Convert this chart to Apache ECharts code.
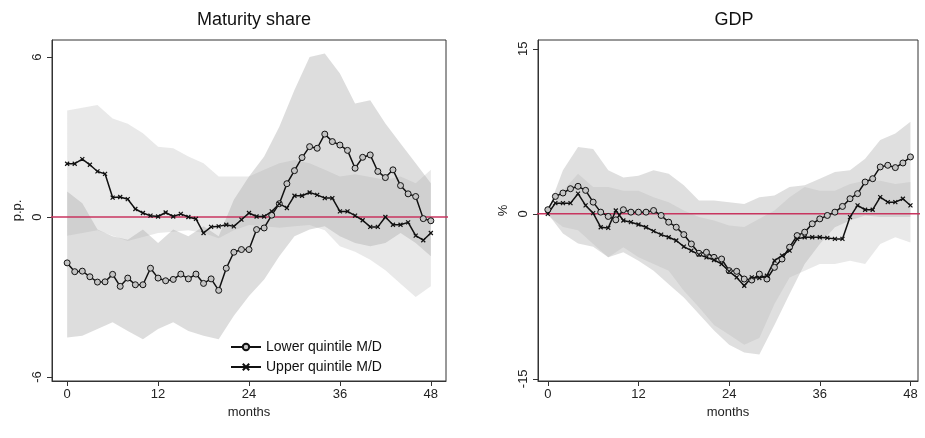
<!DOCTYPE html>
<html>
<head>
<meta charset="utf-8">
<script src="https://cdn.jsdelivr.net/npm/echarts@6/dist/echarts.min.js"></script>
<style>html,body{margin:0;padding:0;background:#fff}#container{width:925px;height:438px}</style>
</head>
<body>
<div id="container"></div>
<script>
var dom = document.getElementById('container');
var myChart = echarts.init(dom, null, { renderer: 'canvas' });

var months = [];
for (var i = 0; i <= 48; i++) months.push(i);
var bandMonths = [0,2,4,6,8,10,12,14,16,18,20,22,24,26,28,30,32,34,36,38,40,42,44,46,48];
var tickLabels = [0, 12, 24, 36, 48];

// Maturity share
var matLower = [-1.72,-2.05,-2.03,-2.24,-2.44,-2.43,-2.15,-2.6,-2.29,-2.54,-2.54,-1.92,-2.29,-2.39,-2.34,-2.14,-2.32,-2.14,-2.49,-2.32,-2.75,-1.92,-1.32,-1.22,-1.22,-0.47,-0.41,0.07,0.5,1.25,1.74,2.23,2.64,2.58,3.11,2.83,2.7,2.5,1.83,2.24,2.33,1.71,1.48,1.77,1.18,0.87,0.77,-0.06,-0.14];
var matUpper = [2.0,2.0,2.17,1.96,1.71,1.62,0.73,0.75,0.67,0.3,0.15,0.05,0.02,0.17,0.02,0.12,0,-0.07,-0.6,-0.37,-0.35,-0.29,-0.35,-0.1,0.15,0.02,0.02,0.21,0.5,0.34,0.8,0.8,0.92,0.83,0.71,0.71,0.21,0.21,0.05,-0.12,-0.37,-0.37,0,-0.29,-0.29,-0.2,-0.7,-0.87,-0.6];
var matLowerHi = [0.96,0.52,-0.47,-0.72,-0.85,-0.47,-0.97,-0.47,-0.72,-0.35,-0.72,0.65,1.52,2.27,3.39,4.76,6.0,6.13,5.38,4.26,4.38,3.51,2.76,2.02,1.27];
var matLowerLo = [-4.52,-4.45,-4.2,-3.95,-4.27,-4.58,-4.2,-3.95,-4.27,-4.45,-4.58,-3.7,-2.96,-2.34,-1.47,-0.72,-0.47,-0.35,-0.72,-0.97,-1.1,-0.97,-0.6,-0.97,-1.47];
var matUpperHi = [4.0,4.1,4.2,3.7,3.5,3.14,2.64,2.58,2.27,2.02,1.52,1.52,1.52,1.77,2.02,2.14,2.02,1.77,1.52,1.6,1.5,1.4,1.52,1.27,1.77];
var matUpperLo = [-0.7,-0.6,-0.5,-0.7,-0.9,-0.75,-0.6,-0.55,-0.5,-0.6,-0.8,-0.5,-0.3,-0.35,-0.4,-0.35,-0.3,-0.5,-1.1,-1.3,-1.6,-2.0,-2.5,-3.0,-2.6];

// GDP
var gdpLower = [0.37,1.58,1.89,2.28,2.5,2.13,1.06,0.15,-0.24,-0.55,0.37,0.15,0.15,0.15,0.3,-0.15,-0.76,-1.22,-1.89,-2.74,-3.59,-3.5,-3.96,-4.11,-5.17,-5.23,-5.93,-6.02,-5.48,-5.93,-4.87,-4.11,-3.04,-1.98,-1.67,-0.91,-0.46,-0.15,0.15,0.67,1.37,1.83,2.89,3.19,4.26,4.41,4.2,4.62,5.17];
var gdpUpper = [0,0.97,0.97,0.97,1.83,0.76,0.06,-1.22,-1.28,0.3,-0.61,-0.76,-0.97,-1.22,-1.58,-1.89,-2.13,-2.43,-2.98,-3.35,-3.71,-3.96,-4.2,-4.56,-5.23,-5.78,-6.54,-5.78,-5.84,-5.63,-4.26,-3.8,-3.35,-2.28,-2.13,-2.13,-2.13,-2.19,-2.28,-2.28,-0.3,0.76,0.37,0.37,1.52,1.06,1.06,1.37,0.76];
var gdpUpperHi = [0.3,3.95,6.08,5.9,3.95,3.3,3.45,3.95,3.65,2.6,1.2,1.2,1.06,0.9,1.5,1.67,2.43,2.6,3.19,3.8,3.95,5.0,6.7,7.3,8.37];
var gdpUpperLo = [0,-1.8,-2.7,-3.0,-3.96,-3.5,-4.26,-5.17,-6.4,-7.6,-9.1,-10.6,-11.9,-12.6,-12.8,-10.1,-7.3,-4.56,-2.74,-1.22,-0.6,-0.15,-0.3,-0.3,-0.3];
var gdpLowerHi = [0.15,2.1,3.65,2.43,2.43,2.1,2.1,1.5,1.06,0.3,-0.3,-0.6,-1.06,-1.2,-0.46,0.3,1.5,2.43,2.1,2.1,2.7,3.0,3.0,2.7,2.9];
var gdpLowerLo = [-0.15,-1.2,-1.5,-2.74,-3.96,-3.04,-3.96,-4.56,-5.17,-7.0,-8.5,-10.1,-11.0,-11.9,-11.3,-8.2,-5.8,-5.17,-4.56,-4.56,-4.26,-4.56,-2.74,-2.13,-2.6];

var crossPath = 'path://M0,0L10,10M10,0L0,10';

function pairs(xs, ys) {
    return xs.map(function (x, k) { return [x, ys[k]]; });
}
// confidence band drawn as one polygon through the axis scales
function band(idx, lo, hi, color) {
    var rows = bandMonths.map(function (m, k) { return [m, lo[k], hi[k]]; });
    return {
        type: 'custom', xAxisIndex: idx, yAxisIndex: idx, silent: true, z: 1,
        data: rows,
        encode: { x: 0, y: [1, 2] },
        renderItem: function (params, api) {
            if (params.dataIndex !== 0) return;
            var top = [], bot = [];
            rows.forEach(function (r) {
                top.push(api.coord([r[0], r[2]]));
                bot.unshift(api.coord([r[0], r[1]]));
            });
            return { type: 'polygon', shape: { points: top.concat(bot) }, style: { fill: color } };
        }
    };
}
function lineSeries(idx, name, ys, sym) {
    var isCircle = sym === 'circle';
    return {
        type: 'line', name: name, xAxisIndex: idx, yAxisIndex: idx, data: pairs(months, ys), z: 5,
        symbol: isCircle ? 'circle' : crossPath,
        symbolSize: isCircle ? 6 : 4,
        lineStyle: { color: '#111', width: 1.5 },
        itemStyle: { color: isCircle ? '#c4c4c4' : '#111', borderColor: '#111', borderWidth: isCircle ? 1 : 1.2 }
    };
}
function zeroLine(idx) {
    return { type: 'line', xAxisIndex: idx, yAxisIndex: idx, symbol: 'none', silent: true, z: 4,
             lineStyle: { color: '#c8355f', width: 1.5 }, data: [[-3, 0], [51, 0]] };
}
function xAxis(idx, min, max) {
    return {
        type: 'value', gridIndex: idx, min: min, max: max,
        name: 'months', nameLocation: 'middle', nameGap: 16,
        nameTextStyle: { color: '#222', fontSize: 13, fontFamily: 'Liberation Sans' },
        axisLine: { show: true, onZero: false, lineStyle: { color: '#333' } },
        axisTick: { show: true, customValues: tickLabels, length: 5, lineStyle: { color: '#333' } },
        axisLabel: { customValues: tickLabels, color: '#222', fontSize: 13, margin: 7, fontFamily: 'Liberation Sans' },
        splitLine: { show: false }
    };
}
function yAxis(idx, min, max, ticks, name) {
    return {
        type: 'value', gridIndex: idx, min: min, max: max,
        name: name, nameLocation: 'middle', nameGap: 28, nameRotate: 90,
        nameTextStyle: { color: '#222', fontSize: 13, fontFamily: 'Liberation Sans' },
        axisLine: { show: true, onZero: false, lineStyle: { color: '#333' } },
        axisTick: { show: true, customValues: ticks, length: 5, lineStyle: { color: '#333' } },
        axisLabel: { customValues: ticks, rotate: 90, color: '#222', fontSize: 13, margin: 8, fontFamily: 'Liberation Sans' },
        splitLine: { show: false }
    };
}

var series = [
    band(0, matUpperLo, matUpperHi, 'rgba(200,200,200,0.4)'),
    band(0, matLowerLo, matLowerHi, 'rgba(170,170,170,0.4)'),
    zeroLine(0),
    lineSeries(0, 'Lower quintile M/D', matLower, 'circle'),
    lineSeries(0, 'Upper quintile M/D', matUpper, 'cross'),
    band(1, gdpLowerLo, gdpLowerHi, 'rgba(200,200,200,0.4)'),
    band(1, gdpUpperLo, gdpUpperHi, 'rgba(175,175,175,0.4)'),
    zeroLine(1),
    lineSeries(1, 'gdpLower', gdpLower, 'circle'),
    lineSeries(1, 'gdpUpper', gdpUpper, 'cross')
];

var option = {
    animation: false,
    title: [
        { text: 'Maturity share', left: 249, top: 6, textAlign: 'center',
          textStyle: { fontSize: 18, fontWeight: 'normal', color: '#111', fontFamily: 'Liberation Sans' } },
        { text: 'GDP', left: 729, top: 6, textAlign: 'center',
          textStyle: { fontSize: 18, fontWeight: 'normal', color: '#111', fontFamily: 'Liberation Sans' } }
    ],
    legend: {
        data: ['Lower quintile M/D', 'Upper quintile M/D'],
        orient: 'vertical', left: 225, top: 335, itemGap: 6, itemWidth: 30, itemHeight: 8,
        textStyle: { fontSize: 14, color: '#111', fontFamily: 'Liberation Sans' }
    },
    grid: [
        { left: 52, right: 479, top: 40, bottom: 57, show: true, borderColor: '#333', borderWidth: 1 },
        { left: 538, right: 7, top: 40, bottom: 57, show: true, borderColor: '#333', borderWidth: 1 }
    ],
    xAxis: [xAxis(0, -2, 50), xAxis(1, -1.3, 49)],
    yAxis: [yAxis(0, -6.15, 6.64, [-6, 0, 6], 'p.p.'), yAxis(1, -15.2, 15.8, [-15, 0, 15], '%')],
    series: series
};

myChart.setOption(option);
window.addEventListener('resize', myChart.resize);
</script>
</body>
</html>
